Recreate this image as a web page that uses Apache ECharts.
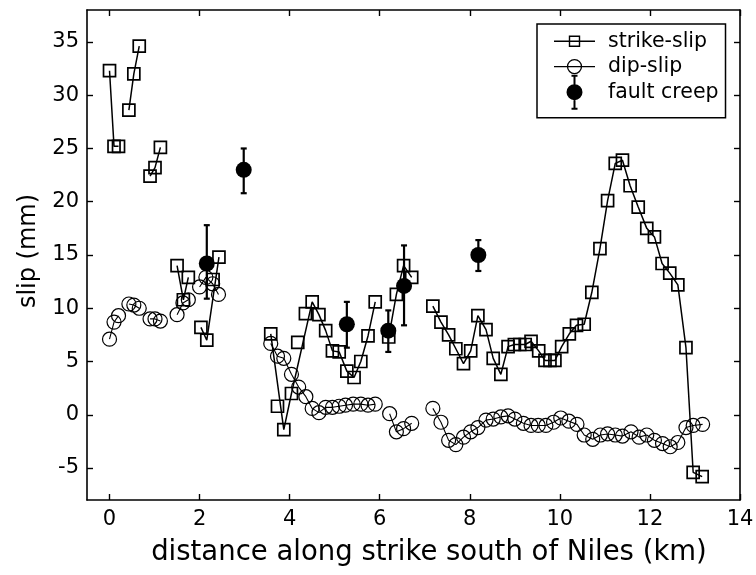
<!DOCTYPE html>
<html><head><meta charset="utf-8">
<script src="https://cdn.jsdelivr.net/npm/echarts@6/dist/echarts.min.js"></script>
<style>html,body{margin:0;padding:0;background:#fff}#c{width:756px;height:575px}</style>
</head><body><div id="c"></div>
<script>
const xTicks = [0, 2, 4, 6, 8, 10, 12, 14];
const yTicks = [-5, 0, 5, 10, 15, 20, 25, 30, 35];

// strike-slip (null = break in the line; single points between breaks are unconnected)
const strikeX = [0, 0.1, 0.2, null, 0.43, 0.54, 0.66, null, 0.9, 1.01, 1.13, null,
  1.5, 1.64, 1.75, null, 2.03, 2.16, 2.43, null, 2.3, null,
  3.58, 3.87, 4.04, 4.5, 4.65, 4.8, 4.95, 5.1, 5.27, 5.43, 5.58, 5.74, 5.9, null,
  3.73, null, 4.18, null, 4.35, null,
  6.2, 6.37, 6.53, 6.71, null,
  7.18, 7.36, 7.53, 7.69, 7.86, 8.02, 8.18, 8.36, 8.52, 8.69, 8.85, 8.99, 9.11, 9.23, 9.36, 9.53, 9.67, 9.78, 9.89,
  10.04, 10.21, 10.37, 10.54, 10.71, 10.89, 11.06, 11.23, 11.39, 11.56, 11.74, 11.93, 12.1, 12.27, 12.44, 12.62, 12.8, 12.96, 13.16];
const strikeY = [32.3, 25.2, 25.2, null, 28.6, 32.0, 34.6, null, 22.4, 23.2, 25.1, null,
  14.0, 10.8, 12.9, null, 8.2, 7.0, 14.8, null, 12.7, null,
  7.6, -1.4, 2.0, 10.6, 9.4, 7.9, 6.0, 5.9, 4.1, 3.5, 5.0, 7.4, 10.6, null,
  0.8, null, 6.8, null, 9.5, null,
  7.3, 11.3, 14.0, 12.9, null,
  10.2, 8.7, 7.5, 6.2, 4.8, 6.0, 9.3, 8.0, 5.3, 3.8, 6.4, 6.6, 6.6, 6.6, 6.9, 6.0, 5.1, 5.1, 5.1,
  6.4, 7.6, 8.4, 8.5, 11.5, 15.6, 20.1, 23.6, 23.9, 21.5, 19.5, 17.5, 16.7, 14.2, 13.3, 12.2, 6.3, -5.4, -5.8];

// dip-slip
const dipX = [0, 0.1, 0.2, null, 0.43, 0.54, 0.66, null, 0.9, 1.01, 1.13, null,
  1.5, 1.63, 1.75, null, 2.0, 2.14, 2.29, 2.42, null,
  3.58, 3.73, 3.87, 4.04, 4.2, 4.36, 4.5, 4.65, 4.8, 4.95, 5.1, 5.24, 5.41, 5.58, 5.74, 5.9, null,
  6.22, 6.37, 6.53, 6.71, null,
  7.18, 7.36, 7.53, 7.69, 7.86, 8.02, 8.18, 8.36, 8.52, 8.69, 8.85, 9.0, 9.19, 9.36, 9.52, 9.69, 9.86,
  10.02, 10.2, 10.38, 10.54, 10.73, 10.9, 11.06, 11.23, 11.39, 11.58, 11.76, 11.93, 12.1, 12.28, 12.45, 12.62, 12.8, 12.96, 13.17];
const dipY = [7.1, 8.7, 9.3, null, 10.4, 10.3, 10.0, null, 9.0, 9.0, 8.8, null,
  9.4, 10.5, 10.8, null, 12.0, 12.9, 12.3, 11.3, null,
  6.7, 5.5, 5.3, 3.8, 2.6, 1.7, 0.6, 0.2, 0.7, 0.7, 0.8, 0.9, 1.0, 1.0, 0.9, 1.0, null,
  0.1, -1.6, -1.3, -0.8, null,
  0.6, -0.7, -2.4, -2.8, -2.1, -1.6, -1.2, -0.5, -0.4, -0.2, -0.1, -0.4, -0.8, -1.0, -1.0, -1.0, -0.7,
  -0.3, -0.6, -0.9, -1.9, -2.3, -1.9, -1.8, -1.9, -2.0, -1.6, -2.1, -1.9, -2.4, -2.7, -3.0, -2.6, -1.2, -1.0, -0.9];

// fault creep with error bars
const creepX = [2.16, 2.98, 5.27, 6.19, 6.54, 8.19];
const creepY = [14.2, 23.0, 8.5, 7.9, 12.1, 15.0];
const creepLow = [10.9, 20.8, 6.3, 5.9, 8.4, 13.5];
const creepHigh = [17.8, 25.0, 10.6, 9.8, 15.9, 16.4];

const FONT = 'DejaVu Sans';
const pairs = (xs, ys) => xs.map((x, i) => x === null ? [null, null] : [x, ys[i]]);

const chart = echarts.init(document.getElementById('c'), null, {renderer: 'canvas'});
const axisLine = {show: true, onZero: false, lineStyle: {color: '#000', width: 1.6}};
chart.setOption({
  animation: false,
  backgroundColor: '#fff',
  grid: {left: 87, right: 16, top: 10, bottom: 75, containLabel: false, outerBoundsMode: 'none'},
  xAxis: [{
    type: 'value', min: -0.5, max: 14, position: 'bottom',
    axisLine: axisLine,
    axisTick: {show: true, inside: true, length: 6, customValues: xTicks, lineStyle: {color: '#000', width: 1.4}},
    axisLabel: {show: true, customValues: xTicks, margin: 9, color: '#000', fontFamily: FONT, fontSize: 21},
    splitLine: {show: false},
    name: 'distance along strike south of Niles (km)', nameLocation: 'middle', nameGap: 39,
    nameTextStyle: {color: '#000', fontFamily: FONT, fontSize: 27.5, padding: [0, 0, 0, 31]}
  }, {
    type: 'value', min: -0.5, max: 14, position: 'top',
    axisLine: axisLine,
    axisTick: {show: true, inside: true, length: 6, customValues: xTicks, lineStyle: {color: '#000', width: 1.4}},
    axisLabel: {show: false}, splitLine: {show: false}
  }],
  yAxis: [{
    type: 'value', min: -8, max: 38, position: 'left',
    axisLine: axisLine,
    axisTick: {show: true, inside: true, length: 6, customValues: yTicks, lineStyle: {color: '#000', width: 1.4}},
    axisLabel: {show: true, customValues: yTicks, margin: 8, color: '#000', fontFamily: FONT, fontSize: 21},
    splitLine: {show: false},
    name: 'slip (mm)', nameLocation: 'middle', nameGap: 46, nameRotate: 90,
    nameTextStyle: {color: '#000', fontFamily: FONT, fontSize: 24, padding: [0, 0, 0, 8]}
  }, {
    type: 'value', min: -8, max: 38, position: 'right',
    axisLine: axisLine,
    axisTick: {show: true, inside: true, length: 6, customValues: yTicks, lineStyle: {color: '#000', width: 1.4}},
    axisLabel: {show: false}, splitLine: {show: false}
  }],
  legend: {
    show: true, orient: 'vertical', left: 537, top: 24,
    selectedMode: false,
    backgroundColor: '#fff', borderColor: '#000', borderWidth: 1.5, borderRadius: 0,
    padding: [0, 7, 8, 16],
    itemWidth: 41, itemHeight: 33, itemGap: -9,
    textStyle: {color: '#000', fontFamily: FONT, fontSize: 20.5, lineHeight: 25.5, padding: [0, 0, 0, 8]},
    data: [
      {name: 'strike-slip', icon: 'path://M0,0 M41,33 M0,16.5 L41,16.5 M15.5,11.5 L25.5,11.5 L25.5,21.5 L15.5,21.5 Z',
        itemStyle: {color: 'transparent', borderColor: '#000', borderWidth: 1.4}},
      {name: 'dip-slip', icon: 'path://M0,0 M41,33 M0,16.5 L41,16.5 M27.5,16.5 A7,7 0 1,1 13.5,16.5 A7,7 0 1,1 27.5,16.5 Z',
        itemStyle: {color: 'transparent', borderColor: '#000', borderWidth: 1.3}},
      {name: 'fault creep', icon: 'path://M0,0 M41,33 M17.5,0 L23.5,0 M20.5,0 L20.5,33 M17.5,33 L23.5,33 M27.5,16.5 A7,7 0 1,1 13.5,16.5 A7,7 0 1,1 27.5,16.5 Z',
        itemStyle: {color: '#000', borderColor: '#000', borderWidth: 2, opacity: 1}}
    ]
  },
  series: [{
    name: 'dip-slip', type: 'line', xAxisIndex: 0, yAxisIndex: 0,
    data: pairs(dipX, dipY), connectNulls: false, showSymbol: true, showAllSymbol: true,
    symbol: 'circle', symbolSize: 14,
    itemStyle: {color: 'transparent', borderColor: '#000', borderWidth: 1.2},
    lineStyle: {color: '#000', width: 1.1},
    emphasis: {disabled: true}, z: 2
  }, {
    name: 'strike-slip', type: 'line', xAxisIndex: 0, yAxisIndex: 0,
    data: pairs(strikeX, strikeY), connectNulls: false, showSymbol: true, showAllSymbol: true,
    symbol: 'rect', symbolSize: 12,
    itemStyle: {color: 'transparent', borderColor: '#000', borderWidth: 1.7},
    lineStyle: {color: '#000', width: 1.5},
    emphasis: {disabled: true}, z: 3
  }, {
    name: 'creep error', type: 'custom', xAxisIndex: 0, yAxisIndex: 0,
    data: creepX.map((x, i) => [x, creepLow[i], creepHigh[i]]),
    encode: {x: 0, y: [1, 2]},
    renderItem: function (params, api) {
      const x = api.value(0);
      const lo = api.coord([x, api.value(1)]);
      const hi = api.coord([x, api.value(2)]);
      const w = 3;
      const st = {stroke: '#000', lineWidth: 2.2, fill: null};
      return {type: 'group', children: [
        {type: 'line', shape: {x1: lo[0], y1: lo[1], x2: hi[0], y2: hi[1]}, style: st},
        {type: 'line', shape: {x1: lo[0] - w, y1: lo[1], x2: lo[0] + w, y2: lo[1]}, style: st},
        {type: 'line', shape: {x1: hi[0] - w, y1: hi[1], x2: hi[0] + w, y2: hi[1]}, style: st}
      ]};
    },
    silent: true, z: 4
  }, {
    name: 'fault creep', type: 'scatter', xAxisIndex: 0, yAxisIndex: 0,
    data: creepX.map((x, i) => [x, creepY[i]]),
    symbol: 'circle', symbolSize: 16,
    itemStyle: {color: '#000', borderColor: '#000', borderWidth: 0, opacity: 1},
    emphasis: {disabled: true}, z: 5
  }]
});
</script></body></html>
